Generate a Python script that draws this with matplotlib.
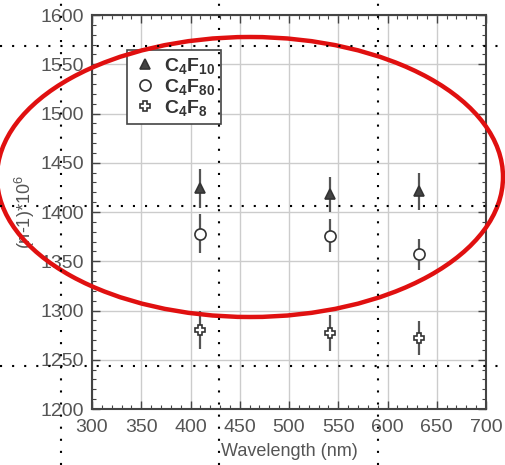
import matplotlib
matplotlib.use('Agg')
import matplotlib.pyplot as plt
from matplotlib.patches import Ellipse
from matplotlib.lines import Line2D
from matplotlib.ticker import MultipleLocator

plt.rcParams['font.family'] = ['Liberation Sans', 'DejaVu Sans']
plt.rcParams['mathtext.fontset'] = 'custom'
plt.rcParams['mathtext.rm'] = 'Liberation Sans'
plt.rcParams['mathtext.default'] = 'regular'

# data
wavelength = [410, 542, 632]
c4f10 = [1424, 1418, 1421]
c4f10_err = [20, 18, 19]
c4f80 = [1378, 1376, 1357]
c4f80_err = [20, 17, 16]
c4f8 = [1280, 1277, 1272]
c4f8_err = [19, 18, 17]

xticks = [300, 350, 400, 450, 500, 550, 600, 650, 700]
yticks = [1200, 1250, 1300, 1350, 1400, 1450, 1500, 1550, 1600]

W, H = 505, 465
fig = plt.figure(figsize=(W / 100, H / 100), dpi=100)
ax = fig.add_axes([92 / W, 1 - 409 / H, 394 / W, 394 / H])

ink = '#444444'
series = [
    (c4f10, c4f10_err, '^', ink, r'C$_4$F$_{10}$', 7),
    (c4f80, c4f80_err, 'o', 'white', r'C$_4$F$_{80}$', 8),
    (c4f8, c4f8_err, 'P', 'white', r'C$_4$F$_8$', 7.5),
]
for vals, errs, mk, face, lab, ms in series:
    ax.errorbar(wavelength, vals, yerr=errs, fmt='none', ecolor='#555555',
                elinewidth=1.6, capsize=0, zorder=3)
    ax.plot(wavelength, vals, linestyle='none', marker=mk, markersize=ms,
            markerfacecolor=face, markeredgecolor='#333333', markeredgewidth=1.2,
            label=lab, zorder=4)

ax.set_xlim(300, 700)
ax.set_ylim(1200, 1600)
ax.set_xticks(xticks)
ax.set_yticks(yticks)
ax.xaxis.set_minor_locator(MultipleLocator(10))
ax.yaxis.set_minor_locator(MultipleLocator(10))
ax.tick_params(which='both', direction='in', top=True, right=True,
               color='#444444', labelsize=14, labelcolor='#555555')
ax.tick_params(which='major', length=6, width=1)
ax.tick_params(which='minor', length=3, width=0.8)
ax.tick_params(axis='x', pad=7)
ax.tick_params(axis='y', pad=6)
ax.grid(True, which='major', color='#cccccc', linewidth=1)
for s in ax.spines.values():
    s.set_color('#444444')
    s.set_linewidth(1.5)

ax.set_xlabel('Wavelength (nm)', fontsize=13, color='#555555', labelpad=5)
ax.set_ylabel(r'(n-1)*10$^6$', fontsize=13, color='#555555')
ax.yaxis.set_label_coords(-0.14, 0.5)

leg = ax.legend(loc='upper left', bbox_to_anchor=(0.089, 0.911), borderaxespad=0,
                fancybox=False, edgecolor='#444444', framealpha=1,
                prop={'size': 14, 'weight': 'bold'}, handletextpad=0.4,
                handlelength=1.2, labelspacing=0.05, borderpad=0.3)
leg.get_frame().set_linewidth(1.2)
for t in leg.get_texts():
    t.set_color('#333333')

# red hand-drawn style ellipse overlay
fig.add_artist(Ellipse((250 / W, 1 - 177 / H), 506 / W, 280 / H,
                       transform=fig.transFigure, fill=False,
                       edgecolor='#e01010', linewidth=3.2, zorder=10))

# dotted guide lines across the whole image
for yp in [46, 206, 366]:
    fig.add_artist(Line2D([0, 1], [1 - yp / H] * 2, transform=fig.transFigure,
                          color='black', linewidth=1.5, linestyle=(0, (1, 4.8)),
                          dash_capstyle='butt', zorder=11))
for xp in [61, 219, 378]:
    fig.add_artist(Line2D([xp / W] * 2, [0, 1], transform=fig.transFigure,
                          color='black', linewidth=1.5, linestyle=(0, (1, 4.8)),
                          dash_capstyle='butt', zorder=11))

fig.savefig('out.png', dpi=100)
